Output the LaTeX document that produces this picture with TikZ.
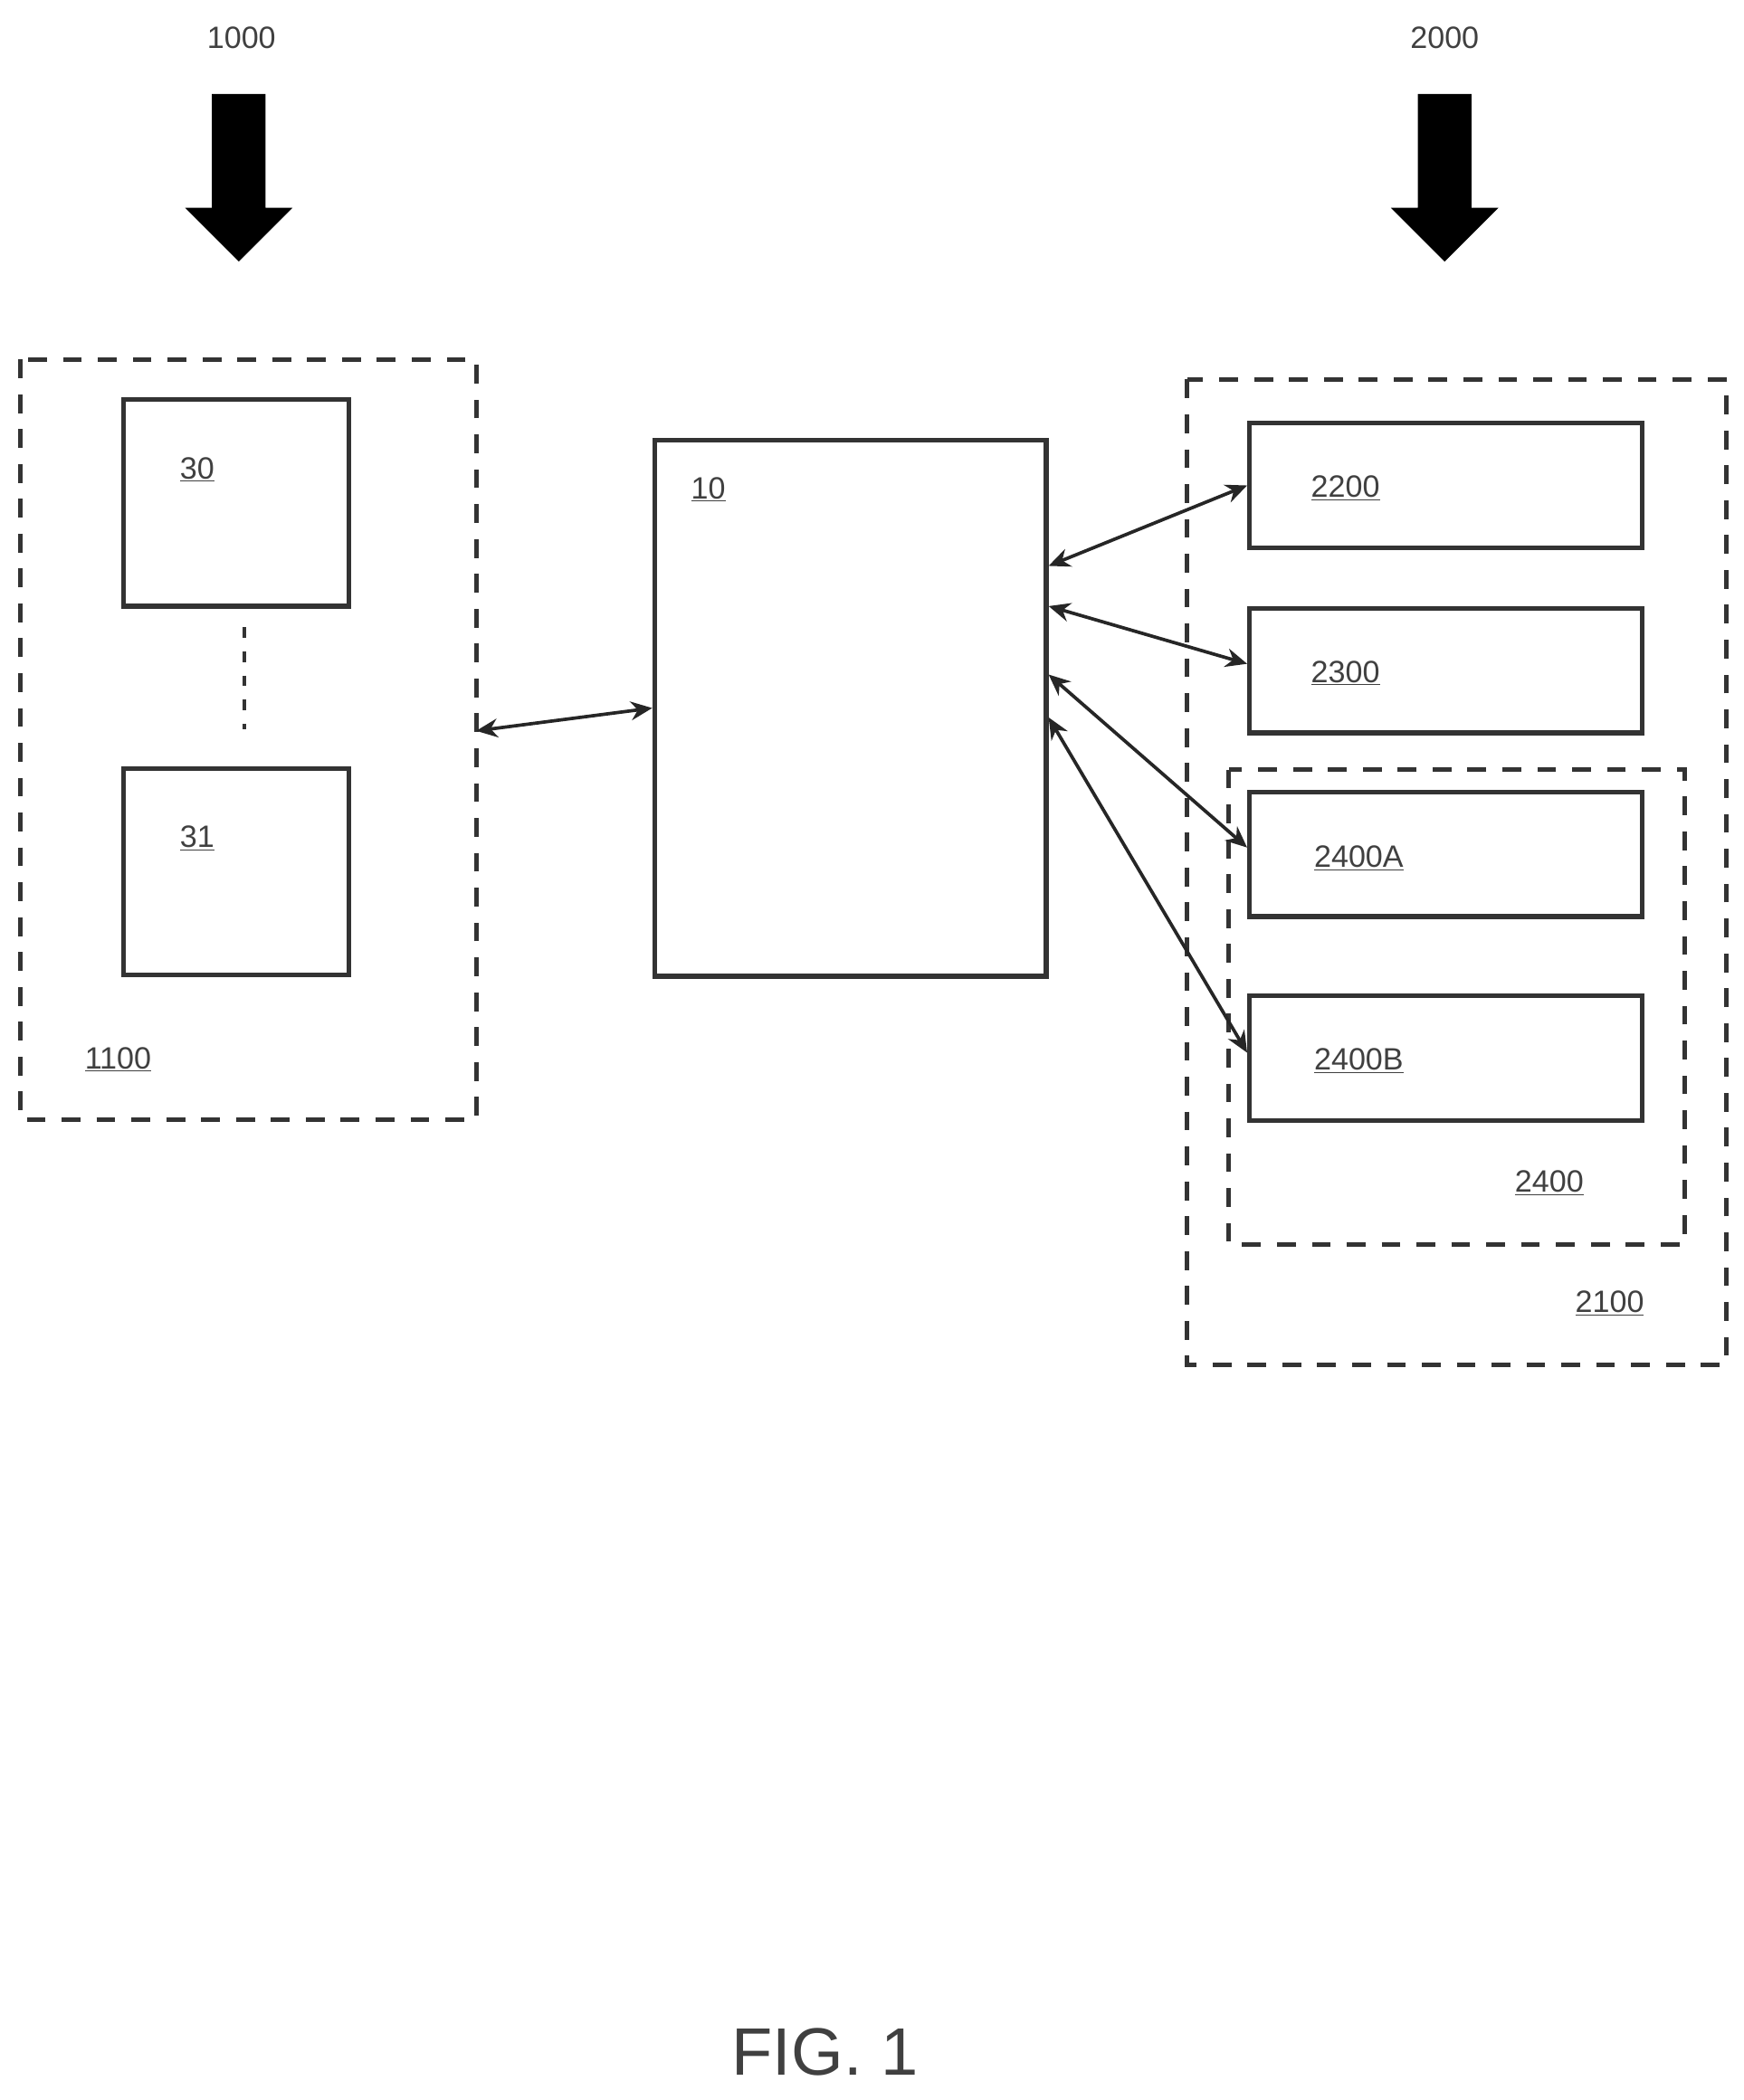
\documentclass[tikz,border=0pt]{standalone}
\usepackage{fontspec}
\setmainfont{Liberation Sans}
\usetikzlibrary{arrows.meta}
\begin{document}
\begin{tikzpicture}[x=1pt,y=-1pt,
  box/.style={draw=black!80,line width=3.5pt,inner sep=0},
  dbox/.style={draw=black!80,line width=3.5pt,dash pattern=on 14pt off 12pt},
  lab/.style={font=\fontsize{23}{25}\selectfont,text=black!75},
  con/.style={line width=2.5pt,draw=black!85,{Stealth[length=16pt,width=14pt]}-{Stealth[length=16pt,width=14pt]}},
  big/.style={fill=black,draw=none}]
\useasboundingbox (0,0) rectangle (1300,1566);
% top arrows
\node[lab] (l1000) at (180,28) {1000};
\node[lab] (l2000) at (1077,28) {2000};
\fill[big] (158,70) -- (198,70) -- (198,155) -- (218,155) -- (178,195) -- (138,155) -- (158,155) -- cycle;
\fill[big] (1057,70) -- (1097,70) -- (1097,155) -- (1117,155) -- (1077,195) -- (1037,155) -- (1057,155) -- cycle;
% left group
\draw[dbox] (15,268) rectangle (355,835);
\node[box,minimum width=168pt,minimum height=154pt] (b30) at (176,375) {};
\node[box,minimum width=168pt,minimum height=154pt] (b31) at (176,650) {};
\node[lab] at (147,350) {\underline{30}};
\node[lab] at (147,625) {\underline{31}};
\draw[line width=3pt,dash pattern=on 8pt off 10pt,black!80] (b30.south) ++(6,14) -- ++(0,76);
\node[lab] at (88,790) {\underline{1100}};
\coordinate (lg) at (355,545);
% center
\node[box,minimum width=292pt,minimum height=400pt] (b10) at (634,528) {};
\node[lab] at (528,365) {\underline{10}};
% right group
\draw[dbox] (885,283) rectangle (1287,1018);
\node[lab] at (1200,972) {\underline{2100}};
\draw[dbox] (916,574) rectangle (1256,928);
\node[lab] at (1155,882) {\underline{2400}};
\node[box,minimum width=293pt,minimum height=93pt] (b2200) at (1078,362) {};
\node[box,minimum width=293pt,minimum height=93pt] (b2300) at (1078,500) {};
\node[box,minimum width=293pt,minimum height=93pt] (b2400A) at (1078,637) {};
\node[box,minimum width=293pt,minimum height=93pt] (b2400B) at (1078,789) {};
\node[lab] at (1003,364) {\underline{2200}};
\node[lab] at (1003,502) {\underline{2300}};
\node[lab] at (1013,640) {\underline{2400A}};
\node[lab] at (1013,791) {\underline{2400B}};
% connectors
\draw[con] (lg) -- (b10.west |- 0,528);
\draw[con] (b10.east |- 0,422) -- (b2200.west |- 0,362);
\draw[con] (b10.east |- 0,452) -- (b2300.west |- 0,495);
\draw[con] (b10.east |- 0,503) -- (b2400A.west |- 0,632);
\draw[con] (b10.east |- 0,535) -- (b2400B.west |- 0,785);
\node[font=\fontsize{50}{54}\selectfont,text=black!75] (fig) at (615,1530) {FIG. 1};
\end{tikzpicture}
\end{document}
